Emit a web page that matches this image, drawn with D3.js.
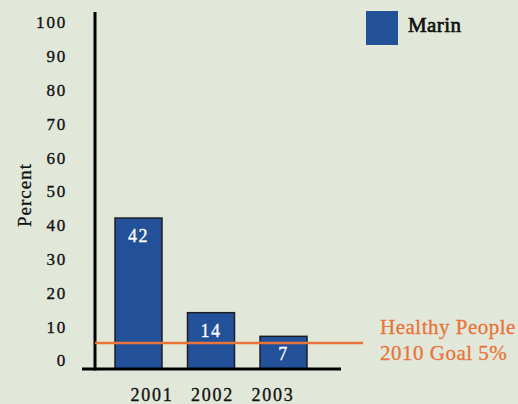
<!DOCTYPE html>
<html>
<head>
<meta charset="utf-8">
<script src="https://cdn.jsdelivr.net/npm/d3@7"></script>
<style>
  html, body { margin: 0; padding: 0; background: #e2e8d9; }
  svg { display: block; }
  text { font-family: "Liberation Serif", "Times New Roman", serif; }
</style>
</head>
<body>
<svg id="chart" width="518" height="404"></svg>
<script>
// Data
const years = ["2001", "2002", "2003"];
const marinValues = [42, 14, 7];
const yTicks = [0, 10, 20, 30, 40, 50, 60, 70, 80, 90, 100];
const goalValue = 5;
const goalLabel = ["Healthy People", "2010 Goal 5%"];
const seriesName = "Marin";

const barColor = "#22519a";
const goalColor = "#e8743a";
const inkColor = "#111";

const svg = d3.select("#chart");
svg.append("rect").attr("width", 518).attr("height", 404).attr("fill", "#e2e8d9");

// Scales
const y = d3.scaleLinear().domain([0, 100]).range([360, 22]);
const baseY = 369;
const axisX = 95;
const x = d3.scaleBand().domain(years).range([115, 307]).paddingInner(0.352).paddingOuter(0);
const xLabel = d3.scalePoint().domain(years).range([152, 273]);

// Slightly heavier glyphs via a thin same-colour outline
function ink(sel, color, w) {
  sel.attr("fill", color).attr("stroke", color).attr("stroke-width", w);
}

// Y axis tick labels
const yAxis = d3.axisLeft(y).tickValues(yTicks).tickSize(0).tickPadding(28);
const gy = svg.append("g").attr("transform", `translate(${axisX},0)`).call(yAxis);
gy.select(".domain").remove();
gy.selectAll("text")
  .call(ink, inkColor, 0.35)
  .style("font-family", '"Liberation Serif", serif')
  .style("font-size", "17px")
  .style("letter-spacing", "1.8px")
  .attr("dy", "0.35em");

// Axis title
svg.append("text")
  .attr("transform", "translate(31,195) rotate(-90)")
  .attr("text-anchor", "middle")
  .call(ink, inkColor, 0.3)
  .style("font-size", "19px")
  .style("letter-spacing", "1px")
  .text("Percent");

// Bars
svg.selectAll("rect.bar")
  .data(years.map((yr, i) => ({ yr, v: marinValues[i] })))
  .join("rect")
  .attr("class", "bar")
  .attr("x", d => x(d.yr))
  .attr("y", d => y(d.v))
  .attr("width", x.bandwidth())
  .attr("height", d => baseY - y(d.v))
  .attr("fill", barColor)
  .attr("stroke", "#1b1f24")
  .attr("stroke-width", 1.5);

// Value labels
svg.selectAll("text.val")
  .data(years.map((yr, i) => ({ yr, v: marinValues[i] })))
  .join("text")
  .attr("class", "val")
  .attr("x", d => x(d.yr) + x.bandwidth() / 2)
  .attr("y", d => y(d.v) + 24)
  .attr("text-anchor", "middle")
  .call(ink, "#fff", 0.3)
  .style("font-size", "18px")
  .style("letter-spacing", "1.5px")
  .text(d => d.v);

// Axis lines
svg.append("line")
  .attr("x1", axisX).attr("x2", axisX)
  .attr("y1", 12).attr("y2", baseY + 1.5)
  .attr("stroke", "#000").attr("stroke-width", 3);
svg.append("line")
  .attr("x1", 82).attr("x2", 341)
  .attr("y1", baseY).attr("y2", baseY)
  .attr("stroke", "#000").attr("stroke-width", 3);

// Goal line
svg.append("line")
  .attr("x1", axisX).attr("x2", 363)
  .attr("y1", y(goalValue)).attr("y2", y(goalValue))
  .attr("stroke", goalColor).attr("stroke-width", 2.5);

svg.selectAll("text.goal")
  .data(goalLabel)
  .join("text")
  .attr("class", "goal")
  .attr("x", 380)
  .attr("y", (d, i) => 334 + i * 26)
  .call(ink, goalColor, 0.3)
  .style("font-size", "21px")
  .style("letter-spacing", "0.5px")
  .text(d => d);

// Year labels
svg.selectAll("text.year")
  .data(years)
  .join("text")
  .attr("class", "year")
  .attr("x", d => xLabel(d))
  .attr("y", 401)
  .attr("text-anchor", "middle")
  .call(ink, inkColor, 0.35)
  .style("font-size", "18px")
  .style("letter-spacing", "1.8px")
  .text(d => d);

// Legend
svg.append("rect")
  .attr("x", 366).attr("y", 11)
  .attr("width", 32).attr("height", 34)
  .attr("fill", barColor);
svg.append("text")
  .attr("x", 408).attr("y", 32)
  .call(ink, inkColor, 0.7)
  .style("font-size", "21px")
  .style("letter-spacing", "0.4px")
  .text(seriesName);
</script>
</body>
</html>
